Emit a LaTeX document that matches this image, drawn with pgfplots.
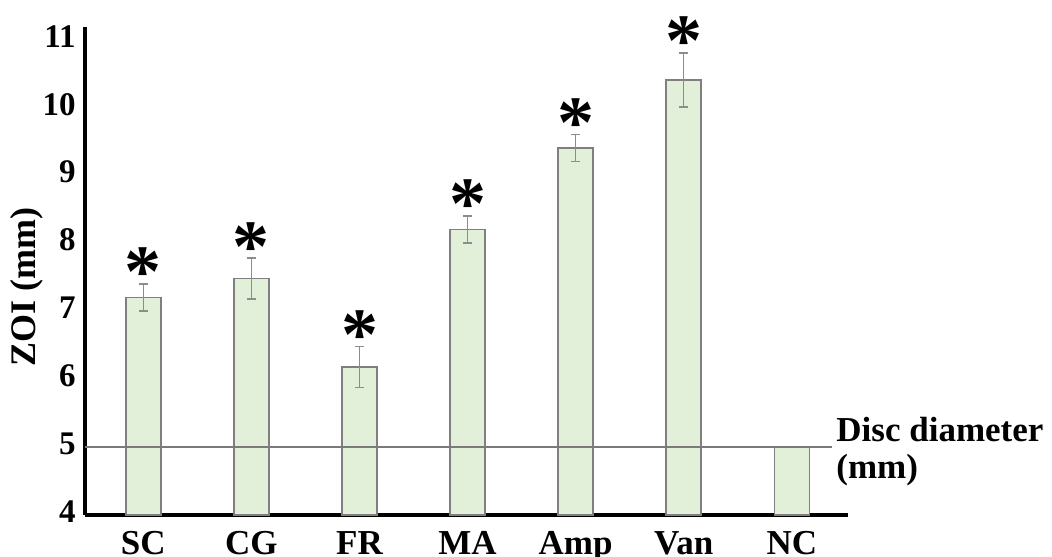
\documentclass[border=0pt]{standalone}
\usepackage{pgfplots}
\pgfplotsset{compat=1.18}
\usepackage{fontspec}
\setmainfont{Liberation Serif}
\definecolor{barfill}{HTML}{E2EFD9}
\definecolor{bardraw}{HTML}{7F7F7F}
\definecolor{errcol}{HTML}{8C8C8C}
\definecolor{linecol}{HTML}{7A7A7A}
\begin{document}
\begin{tikzpicture}
\begin{axis}[
  at={(0,0)}, anchor=south west,
  scale only axis,
  width=381.5pt, height=244pt,
  xmin=-0.54, xmax=6.52,
  ymin=4, ymax=11.18,
  axis lines=left,
  axis line style={-, line width=2pt, black},
  xtick={0,...,6},
  xticklabels={SC,CG,FR,MA,Amp,Van,NC},
  ytick={4,...,11},
  major tick length=0pt,
  /pgf/number format/assume math mode=true,
  xticklabel style={anchor=north, inner sep=0pt, yshift=-8pt, font=\bfseries\fontsize{17.5}{20}\selectfont},
  yticklabel style={anchor=east, inner sep=0pt, xshift=-4.5pt, yshift=1.5pt, font=\bfseries\fontsize{16.5}{19}\selectfont},
]
\addplot[ybar, bar width=17.5pt, fill=barfill, draw=bardraw, line width=0.75pt,
  error bars/.cd, y dir=both, y explicit,
  error bar style={errcol, line width=0.7pt},
  error mark options={errcol, rotate=90, mark size=2.2pt, line width=0.7pt}]
  coordinates {(0,7.2) +- (0,0.2) (1,7.48) +- (0,0.3) (2,6.18) +- (0,0.3) (3,8.2) +- (0,0.2) (4,9.4) +- (0,0.2) (5,10.4) +- (0,0.4)};
\addplot[ybar, bar width=17.5pt, fill=barfill, draw=bardraw, line width=0.75pt]
  coordinates {(6,5)};
\addplot[linecol, line width=0.75pt] coordinates {(-0.54,5) (6.371,5)};
\addplot[draw=none, nodes near coords={*},
  nodes near coords style={anchor=base, inner sep=0pt, yshift=-6.5pt, font=\bfseries\fontsize{37}{40}\selectfont}]
  coordinates {(0,7.4) (1,7.78) (2,6.48) (3,8.4) (4,9.6) (5,10.8)};
\end{axis}
\node[rotate=90, inner sep=0pt, font=\bfseries\fontsize{18}{20}\selectfont] at (-29pt,114pt) {ZOI (mm)};
\node[anchor=base west, inner sep=0pt, font=\bfseries\fontsize{17.5}{20}\selectfont] at (375.5pt,36.75pt) {Disc diameter};
\node[anchor=base west, inner sep=0pt, font=\bfseries\fontsize{17.5}{20}\selectfont] at (375.5pt,18.5pt) {(mm)};
\pgfresetboundingbox
\useasboundingbox (-42.5pt,-20.5pt) rectangle (483.5pt,257.5pt);
\end{tikzpicture}
\end{document}
